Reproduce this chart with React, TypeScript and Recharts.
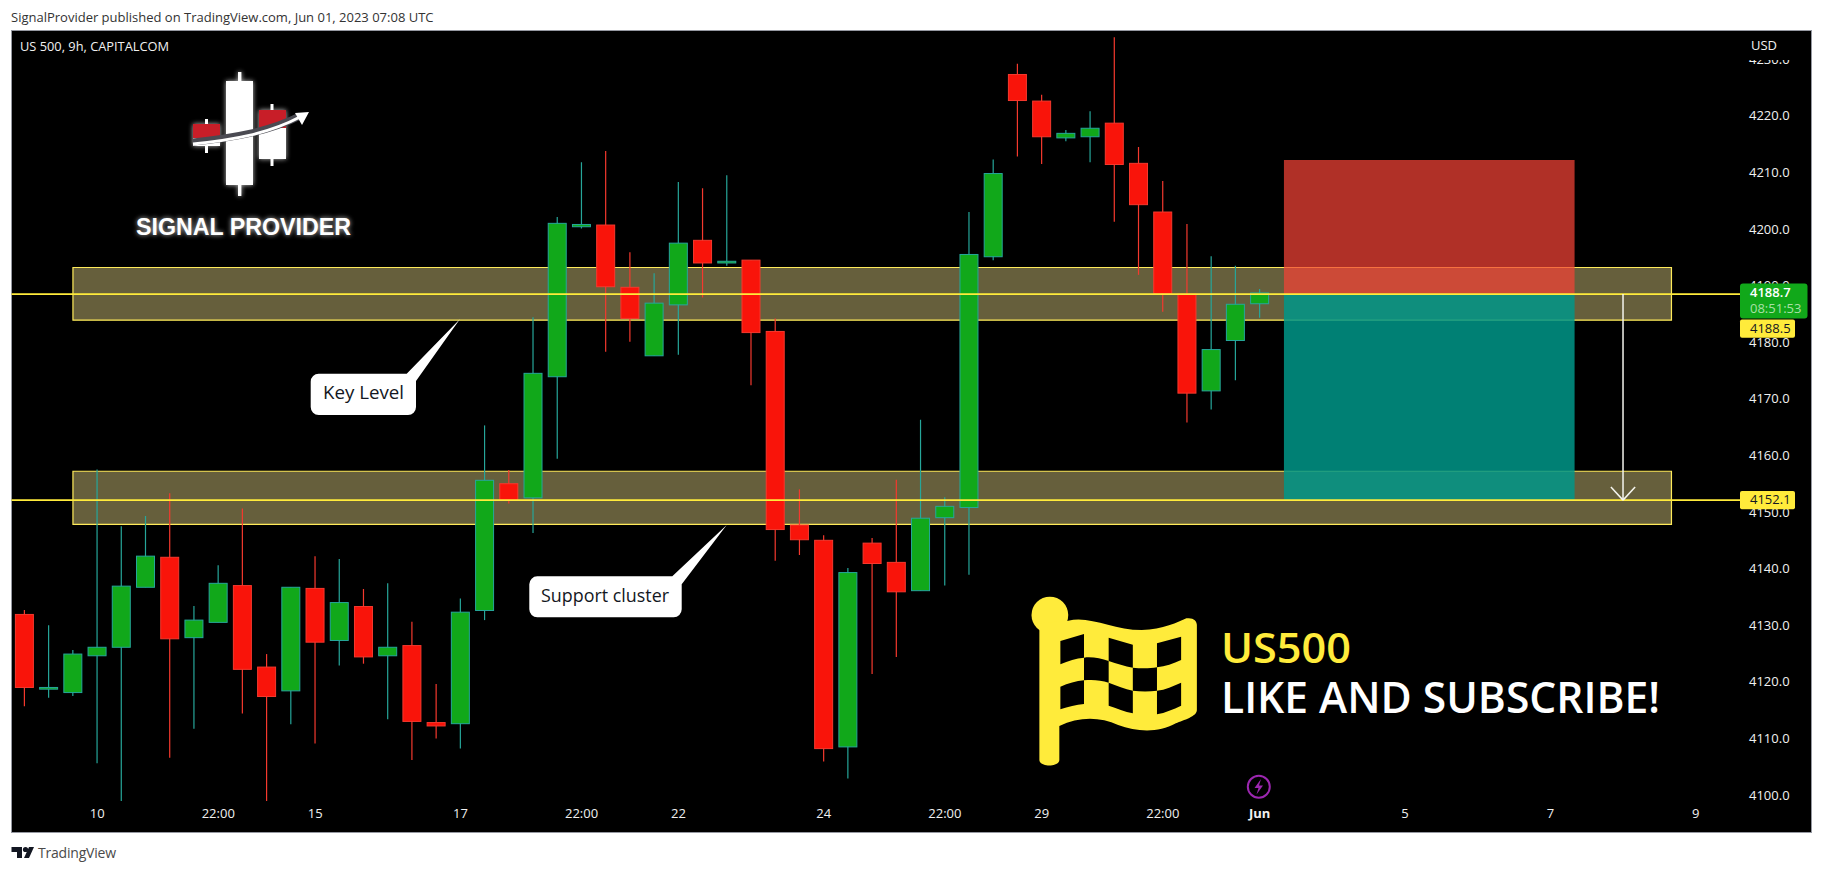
import React from 'react';
import {
  ComposedChart,
  Bar,
  XAxis,
  YAxis,
  ReferenceArea,
  ReferenceLine,
} from 'recharts';

const opens = [
  4131.9, 4118.7, 4118.1, 4124.6, 4126.1, 4136.7, 4142.0, 4127.8, 4130.5, 4137.0, 4122.6, 4118.4, 4136.5,
  4127.3, 4133.3, 4124.6, 4126.4, 4112.8, 4112.6, 4132.6, 4155.0, 4152.5, 4173.9, 4200.4, 4200.7, 4189.7,
  4177.6, 4186.6, 4198.0, 4194.0, 4194.5, 4181.9, 4147.7, 4145.0, 4108.5, 4144.5, 4141.1, 4136.1, 4149.0,
  4150.8, 4195.1, 4227.3, 4222.6, 4216.1, 4216.3, 4218.7, 4211.6, 4203.0, 4188.5, 4171.4, 4180.3, 4186.8,
];
const closes = [
  4119.0, 4119.0, 4124.9, 4126.1, 4136.9, 4142.2, 4127.6, 4130.9, 4137.4, 4122.2, 4117.4, 4136.7, 4127.0,
  4134.0, 4124.4, 4126.1, 4113.0, 4112.2, 4132.3, 4155.6, 4152.1, 4174.5, 4201.0, 4200.8, 4189.8, 4184.2,
  4186.9, 4197.5, 4194.0, 4194.3, 4181.7, 4146.9, 4145.1, 4108.2, 4139.3, 4140.9, 4135.9, 4148.9, 4151.0,
  4195.5, 4209.8, 4222.7, 4216.3, 4216.9, 4217.8, 4211.4, 4204.3, 4188.6, 4171.0, 4178.7, 4186.7, 4188.7,
];
const highs = [
  4132.7, 4130.0, 4125.6, 4157.5, 4147.5, 4149.3, 4153.3, 4133.4, 4140.6, 4150.6, 4124.9, 4136.7, 4142.2,
  4141.7, 4136.4, 4137.4, 4130.6, 4119.6, 4134.7, 4165.3, 4157.4, 4184.4, 4202.1, 4211.8, 4213.8, 4195.9,
  4192.2, 4208.3, 4207.2, 4209.5, 4194.5, 4184.2, 4154.0, 4145.9, 4140.1, 4145.4, 4155.7, 4166.3, 4152.6,
  4203.0, 4212.3, 4229.2, 4223.7, 4217.5, 4220.8, 4233.9, 4214.5, 4208.5, 4200.9, 4195.2, 4193.5, 4189.4,
];
const lows = [
  4115.7, 4117.2, 4117.5, 4105.6, 4098.9, 4136.7, 4106.6, 4111.7, 4130.5, 4114.4, 4098.9, 4112.5, 4109.1,
  4122.9, 4123.2, 4113.4, 4106.2, 4110.0, 4108.2, 4130.9, 4151.5, 4146.3, 4159.4, 4200.1, 4178.3, 4180.1,
  4177.6, 4177.8, 4187.9, 4193.5, 4172.4, 4141.4, 4142.4, 4105.9, 4102.9, 4121.4, 4124.4, 4136.1, 4137.0,
  4138.9, 4194.5, 4212.8, 4211.5, 4215.5, 4211.8, 4201.3, 4191.9, 4185.4, 4165.8, 4168.1, 4173.3, 4184.3,
];

const priceTicks = [4100, 4110, 4120, 4130, 4140, 4150, 4160, 4170, 4180, 4190, 4200, 4210, 4220, 4230];
const timeTickIndex = [3, 8, 12, 18, 23, 27, 33, 38, 42, 47, 51, 57, 63, 69];
const timeTickLabels = ['10', '22:00', '15', '17', '22:00', '22', '24', '22:00', '29', '22:00', 'Jun', '5', '7', '9'];

const keyLevelZone = [4183.9, 4193.2];
const supportZone = [4147.8, 4157.2];
const entry = 4188.5;
const stop = 4212.2;
const target = 4152.1;
const lastPrice = 4188.7;
const countdown = '08:51:53';

const candles = opens.map((open, i) => ({
  idx: i,
  open,
  close: closes[i],
  high: highs[i],
  low: lows[i],
  range: [lows[i], highs[i]],
}));

const FONT = '"Open Sans", sans-serif';
const GREEN = '#11A81A';
const GREEN_EDGE = '#26A69A';
const RED = '#F9140A';
const RED_EDGE = '#F5392E';
const YELLOW = '#FFEB3B';

const PLOT_TOP = 30;
const PLOT_BOTTOM = 801;
const PRICE_MIN = 4098.94;
const PRICE_MAX = 4235.16;

// price tags have to sit over the axis ticks, so they live in the overlay
const priceY = (p: number) => PLOT_BOTTOM - ((p - PRICE_MIN) / (PRICE_MAX - PRICE_MIN)) * (PLOT_BOTTOM - PLOT_TOP);

// body is worked out from the wick rect the scale gave us
const Candle = (props: any) => {
  const { x, y, width, height, payload } = props;
  const { open, close, high, low } = payload;
  const up = close >= open;
  const perUnit = height / (high - low);
  const top = y + (high - Math.max(open, close)) * perUnit;
  const bodyH = Math.max(Math.abs(open - close) * perUnit, 1);
  const cx = x + width / 2;
  return (
    <g>
      <line x1={cx} x2={cx} y1={y} y2={y + height} stroke={up ? GREEN_EDGE : RED_EDGE} strokeWidth={1.2} />
      <rect
        x={x}
        y={top}
        width={width}
        height={bodyH}
        fill={up ? GREEN : RED}
        stroke={up ? GREEN_EDGE : RED_EDGE}
        strokeWidth={1}
      />
    </g>
  );
};

const TimeTick = (props: any) => {
  const { x, y, payload } = props;
  const label = timeTickLabels[timeTickIndex.indexOf(payload.value)];
  return (
    <text
      x={x}
      y={y + 6}
      textAnchor="middle"
      dominantBaseline="middle"
      fontFamily={FONT}
      fontSize={13}
      fontWeight={label === 'Jun' ? 700 : 400}
      fill="#F0F0F0"
    >
      {label}
    </text>
  );
};

const PriceTag = ({ cy, text }: any) => (
  <g>
    <rect x={1740} y={cy - 9.2} width={55} height={18.4} rx={2} fill={YELLOW} />
    <text x={1750} y={cy + 0.5} dominantBaseline="middle" fontFamily={FONT} fontSize={13} fill="#131722">
      {text}
    </text>
  </g>
);

const LastTag = ({ cy }: any) => (
  <g>
    <rect x={1740} y={cy - 9.5} width={67.5} height={35} rx={3} fill={GREEN} />
    <text x={1750} y={cy + 0.5} dominantBaseline="middle" fontFamily={FONT} fontSize={13} fontWeight={600} fill="#fff">
      {lastPrice.toFixed(1)}
    </text>
    <text x={1750} y={cy + 17} dominantBaseline="middle" fontFamily={FONT} fontSize={13} fill="#A8E0A6">
      {countdown}
    </text>
  </g>
);

const Logo = () => (
  <g>
    <defs>
      <filter id="glow" x="-30%" y="-30%" width="160%" height="160%">
        <feGaussianBlur stdDeviation="2.4" />
      </filter>
    </defs>
    <g filter="url(#glow)" fill="#fff" opacity={0.75}>
      <rect x={226} y={81} width={27} height={104} />
      <rect x={193} y={124} width={27} height={22} />
      <rect x={259} y={110} width={27} height={49} />
      <rect x={238} y={72} width={3.4} height={124} />
      <text x={136} y={235} fontFamily="Liberation Sans" fontWeight={700} fontSize={24} textLength={215} lengthAdjust="spacingAndGlyphs">
        SIGNAL PROVIDER
      </text>
    </g>
    <rect x={238} y={72} width={3.4} height={124} fill="#fff" />
    <rect x={226} y={81} width={27} height={104} fill="#fff" />
    <rect x={205} y={119} width={3} height={34} fill="#fff" />
    <rect x={193} y={137} width={27} height={9} fill="#fff" />
    <rect x={193} y={124} width={27} height={14} fill="#C81E28" />
    <rect x={270.5} y={104} width={3} height={62} fill="#fff" />
    <rect x={259} y={125} width={27} height={34} fill="#fff" />
    <rect x={259} y={110} width={27} height={18} fill="#C81E28" />
    <path d="M193 142 C 232 138, 268 132, 300 116" fill="none" stroke="#4A4A52" strokeWidth={7} />
    <path d="M193 144 C 232 140, 268 134, 300 117" fill="none" stroke="#fff" strokeWidth={3} />
    <path d="M309 112 L 295 113 L 302 125 Z" fill="#fff" />
    <text x={136} y={235} fill="#fff" fontFamily="Liberation Sans" fontWeight={700} fontSize={24} textLength={215} lengthAdjust="spacingAndGlyphs">
      SIGNAL PROVIDER
    </text>
  </g>
);

// drawn in the units of the crop I measured it from
const Flag = () => (
  <g transform="translate(1000,560) scale(0.525,0.3333)">
    <ellipse cx={95} cy={165} rx={35} ry={55} fill={YELLOW} />
    <path
      d="M75 190 L130 182 C 170 165, 215 210, 270 210 C 310 210, 340 185, 355 175 C 368 172, 375 182, 375 195 L375 450 C 375 470, 350 480, 335 490 C 300 520, 260 515, 225 495 C 190 470, 150 470, 113 498 L113 600 C 113 622, 75 622, 75 600 Z"
      fill={YELLOW}
    />
    <g fill="#000">
      <path d="M115 243 L160 222 L160 293 C 145 295, 130 303, 115 313 Z" />
      <path d="M207 233 L253 254 L253 323 C 238 320, 222 310, 207 303 Z" />
      <path d="M299 250 L345 230 L345 300 C 330 310, 315 320, 299 322 Z" />
      <path d="M160 293 C 175 290, 192 295, 207 303 L207 368 C 192 360, 175 358, 160 361 Z" />
      <path d="M253 323 C 268 326, 285 326, 299 322 L299 392 C 285 395, 268 395, 253 392 Z" />
      <path d="M115 380 C 130 370, 145 363, 160 361 L160 432 C 145 434, 130 440, 115 448 Z" />
      <path d="M207 368 C 222 376, 238 388, 253 392 L253 460 C 238 455, 222 445, 207 437 Z" />
      <path d="M299 392 C 315 390, 330 378, 345 368 L345 437 C 330 448, 315 458, 299 463 Z" />
    </g>
  </g>
);

const Callout = ({ d, text, x, y, width }: any) => (
  <g>
    <path d={d} fill="#fff" />
    <text
      x={x}
      y={y}
      dominantBaseline="middle"
      fontFamily={FONT}
      fontSize={18}
      fontWeight={500}
      fill="#131722"
      textLength={width}
      lengthAdjust="spacingAndGlyphs"
    >
      {text}
    </text>
  </g>
);

const Overlay = () => (
  <svg width={1823} height={872} style={{ position: 'absolute', left: 0, top: 0, pointerEvents: 'none' }}>
    <rect x={1741} y={31} width={70} height={29} fill="#000" />
    <text x={1751} y={46.5} dominantBaseline="middle" fontFamily={FONT} fontSize={13} fontWeight={500} fill="#F0F0F0">
      USD
    </text>
    <text x={20} y={47.5} dominantBaseline="middle" fontFamily={FONT} fontSize={13} fill="#F0F0F0" textLength={149} lengthAdjust="spacingAndGlyphs">
      US 500, 9h, CAPITALCOM
    </text>
    <Logo />
    <Callout
      d="M318.7 373.7 H406.7 L460 319 L416 381 V407 a8 8 0 0 1 -8 8 H318.7 a8 8 0 0 1 -8 -8 V381.7 a8 8 0 0 1 8 -8 Z"
      text="Key Level"
      x={323}
      y={394.5}
      width={81}
    />
    <Callout
      d="M537.3 576.3 H672.3 L726.7 525 L681.7 584.3 V609.3 a8 8 0 0 1 -8 8 H537.3 a8 8 0 0 1 -8 -8 V584.3 a8 8 0 0 1 8 -8 Z"
      text="Support cluster"
      x={541}
      y={597}
      width={128}
    />
    <Flag />
    <text x={1221} y={663} fontFamily={FONT} fontWeight={600} fontSize={42} fill={YELLOW} textLength={130} lengthAdjust="spacingAndGlyphs">
      US500
    </text>
    <text x={1221} y={713} fontFamily={FONT} fontWeight={600} fontSize={43} fill="#fff" textLength={439} lengthAdjust="spacingAndGlyphs">
      LIKE AND SUBSCRIBE!
    </text>
    <circle cx={1258.8} cy={786.7} r={11} fill="none" stroke="#9C27B0" strokeWidth={2} />
    <path d="M1261 779 L1254.5 788 H1258.5 L1256.5 794.5 L1263 785.5 H1259 Z" fill="#9C27B0" />
    <PriceTag cy={priceY(entry) + 34.5} text={entry.toFixed(1)} />
    <PriceTag cy={priceY(target)} text={target.toFixed(1)} />
    <LastTag cy={priceY(lastPrice)} />
  </svg>
);

export default function App() {
  return (
    <div style={{ position: 'absolute', left: 0, top: 0, width: 1823, height: 872, background: '#fff', overflow: 'hidden' }}>
      <div
        style={{
          position: 'absolute',
          left: 11,
          top: 9,
          fontFamily: FONT,
          fontSize: 13,
          color: '#333',
          lineHeight: '17px',
          whiteSpace: 'nowrap',
        }}
      >
        SignalProvider published on TradingView.com, Jun 01, 2023 07:08 UTC
      </div>
      <div
        style={{
          position: 'absolute',
          left: 11,
          top: 30,
          width: 1801,
          height: 803,
          background: '#000',
          boxSizing: 'border-box',
          border: '1px solid #9598A1',
        }}
      />
      <ComposedChart
        width={1823}
        height={872}
        data={candles}
        margin={{ top: PLOT_TOP, right: 0, bottom: 40, left: 11.5 }}
        style={{ position: 'absolute', left: 0, top: 0 }}
      >
        <XAxis
          type="number"
          dataKey="idx"
          domain={[-0.537, 70.83]}
          allowDataOverflow
          ticks={timeTickIndex}
          interval={0}
          tick={<TimeTick />}
          tickLine={false}
          axisLine={false}
          height={31}
        />
        <YAxis
          orientation="right"
          domain={[PRICE_MIN, PRICE_MAX]}
          allowDataOverflow
          ticks={priceTicks}
          interval={0}
          tickFormatter={(v: number) => v.toFixed(1)}
          tick={{ fontSize: 13, fontFamily: FONT, fill: '#F0F0F0' }}
          tickLine={false}
          axisLine={false}
          tickSize={0}
          tickMargin={9}
          width={83}
        />
        <ReferenceLine y={entry} stroke={YELLOW} strokeWidth={1.7} />
        <ReferenceLine y={target} stroke={YELLOW} strokeWidth={1.7} />
        <ReferenceArea x1={2} x2={68} y1={keyLevelZone[0]} y2={keyLevelZone[1]} fill="#FFEE96" fillOpacity={0.4} stroke="#FFEB5A" strokeWidth={1.2} />
        <ReferenceArea x1={2} x2={68} y1={supportZone[0]} y2={supportZone[1]} fill="#FFEE96" fillOpacity={0.4} stroke="#FFEB5A" strokeWidth={1.2} />
        <ReferenceArea x1={52} x2={64} y1={entry} y2={stop} fill="#F44336" fillOpacity={0.72} stroke="none" />
        <ReferenceArea x1={52} x2={64} y1={target} y2={entry} fill="#009688" fillOpacity={0.85} stroke="none" />
        <ReferenceLine segment={[{ x: 66, y: entry }, { x: 66, y: target }]} stroke="#F5F5EE" strokeWidth={1.5} />
        <ReferenceLine segment={[{ x: 65.5, y: target + 2.3 }, { x: 66, y: target }]} stroke="#F5F5EE" strokeWidth={1.5} />
        <ReferenceLine segment={[{ x: 66.5, y: target + 2.3 }, { x: 66, y: target }]} stroke="#F5F5EE" strokeWidth={1.5} />
        <Bar dataKey="range" barSize={18} shape={<Candle />} isAnimationActive={false} />
      </ComposedChart>
      <Overlay />
      <svg width={120} height={20} style={{ position: 'absolute', left: 11, top: 844 }}>
        <path d="M0.5 3 H11 V14 H6 V8 H0.5 Z" fill="#131722" />
        <circle cx={14.5} cy={5.5} r={2.6} fill="#131722" />
        <path d="M18 3 H23 L18 14 H13 Z" fill="#131722" />
      </svg>
      <div
        style={{
          position: 'absolute',
          left: 38,
          top: 843,
          fontFamily: FONT,
          fontSize: 14,
          color: '#4A4A4A',
          lineHeight: '19px',
          letterSpacing: -0.2,
        }}
      >
        TradingView
      </div>
    </div>
  );
}
